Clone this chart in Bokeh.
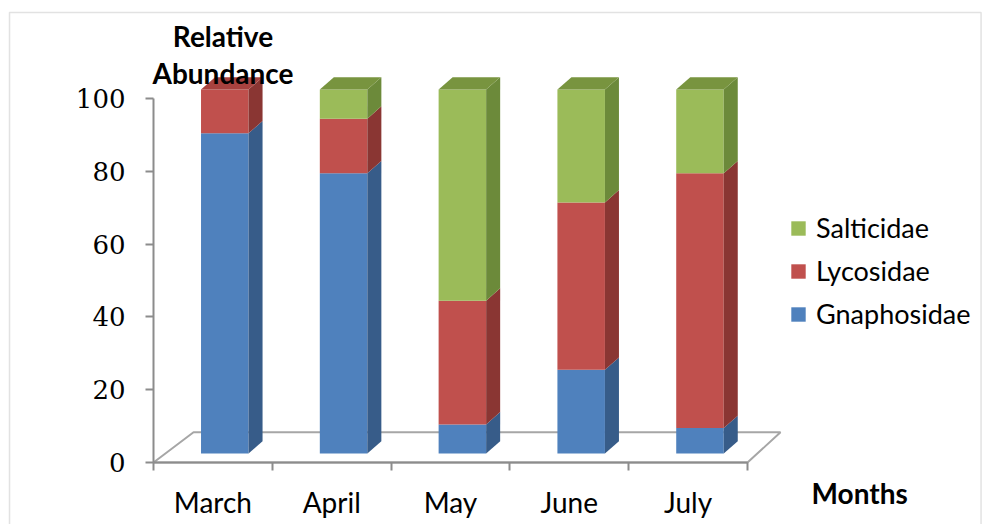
from bokeh.plotting import figure
from bokeh.models import (Range1d, FixedTicker, Legend, LegendItem, Label,
                          PolyAnnotation)
from bokeh.embed import file_html
from bokeh.resources import INLINE

# ---------------- data ----------------
months = ["March", "April", "May", "June", "July"]
gnaphosidae = [88, 77, 8, 23, 7]
lycosidae = [12, 15, 34, 46, 70]
salticidae = [0, 8, 58, 31, 23]
series_names = ["Gnaphosidae", "Lycosidae", "Salticidae"]
series_values = [gnaphosidae, lycosidae, salticidae]
y_ticks = [0, 20, 40, 60, 80, 100]

# ---------------- styles ----------------
front_colors = ["#4F81BD", "#C0504D", "#9BBB59"]
side_colors = ["#375C89", "#8A3633", "#6C8A3A"]
top_colors = ["#41699B", "#A8423F", "#78943F"]
axis_gray = "#8C8C8C"

# 3-D geometry (axis units)
BAR_L, BAR_R = 0.40, 0.80      # front face inside each category band
LIFT = 2.45                    # bars stand a bit behind the front edge
DX, DY = 0.118, 3.4            # bar depth offset
FL_DXL, FL_DXR, FL_DY = 0.337, 0.278, 8.3   # floor depth offset

W, H = 982, 524
PX_X, PX_Y = 118.8, 3.64       # pixels per unit
ORIGIN_X, ORIGIN_Y = 153, 462  # canvas position of the (0, 0) corner

p = figure(width=W, height=H, output_backend="svg", toolbar_location=None,
           x_range=Range1d(-ORIGIN_X / PX_X, (W - ORIGIN_X) / PX_X),
           y_range=Range1d(-(H - ORIGIN_Y) / PX_Y, ORIGIN_Y / PX_Y),
           min_border=0)
p.grid.visible = False
p.outline_line_color = None
p.background_fill_color = "white"
p.border_fill_color = "white"

# floor
n = len(months)
p.patch(x=[0, n, n + FL_DXR, FL_DXL], y=[0, 0, FL_DY, FL_DY],
        fill_color="white", line_color="#A6A6A6", line_width=2)

# bars
front_renderers = []
base = [0.0] * n
for s, vals in enumerate(series_values):
    fl, fr, fb, ft = [], [], [], []
    sxs, sys_ = [], []
    txs, tys = [], []
    for i, v in enumerate(vals):
        if v <= 0:
            continue
        y0 = base[i] + LIFT
        y1 = y0 + v
        fl.append(i + BAR_L); fr.append(i + BAR_R); fb.append(y0); ft.append(y1)
        sxs.append([i + BAR_R, i + BAR_R + DX, i + BAR_R + DX, i + BAR_R])
        sys_.append([y0, y0 + DY, y1 + DY, y1])
        topmost = all(series_values[k][i] <= 0 for k in range(s + 1, len(series_values)))
        if topmost:
            txs.append([i + BAR_L, i + BAR_R, i + BAR_R + DX, i + BAR_L + DX])
            tys.append([y1, y1, y1 + DY, y1 + DY])
    for i, v in enumerate(vals):
        base[i] += v
    r = p.quad(left=fl, right=fr, bottom=fb, top=ft,
               fill_color=front_colors[s], line_color=None)
    front_renderers.append(r)
    p.patches(xs=sxs, ys=sys_, fill_color=side_colors[s], line_color=None)
    if txs:
        p.patches(xs=txs, ys=tys, fill_color=top_colors[s], line_color=None)

# y axis
ya = p.yaxis[0]
ya.fixed_location = 0
ya.ticker = FixedTicker(ticks=y_ticks, minor_ticks=[])
ya.bounds = (0, 100)
ya.axis_line_color = axis_gray
ya.axis_line_width = 2
ya.major_tick_line_color = axis_gray
ya.major_tick_line_width = 2
ya.major_tick_out = 8
ya.major_tick_in = 0
ya.minor_tick_line_color = None
ya.major_label_standoff = 20
ya.major_label_text_font = "DejaVu Serif"
ya.major_label_text_font_size = "26px"
ya.major_label_text_color = "black"

# x axis
xa = p.xaxis[0]
xa.fixed_location = 0
centers = [i + 0.5 for i in range(n)]
xa.ticker = FixedTicker(ticks=centers, minor_ticks=list(range(n + 1)))
xa.major_label_overrides = {c: m for c, m in zip(centers, months)}
xa.bounds = (0, n)
xa.axis_line_color = axis_gray
xa.axis_line_width = 2
xa.major_tick_line_color = None
xa.major_tick_out = 0
xa.major_tick_in = 0
xa.minor_tick_line_color = axis_gray
xa.minor_tick_line_width = 2
xa.minor_tick_out = 8
xa.minor_tick_in = 0
xa.major_label_standoff = 14
xa.major_label_text_font = "Lato"
xa.major_label_text_font_size = "28px"
xa.major_label_text_color = "black"

# titles
for txt, yy in [("Relative", 117.3), ("Abundance", 107.1)]:
    p.add_layout(Label(x=0.585, y=yy, text=txt, text_font="Lato",
                       text_font_style="bold", text_font_size="28px",
                       text_align="center", text_baseline="alphabetic",
                       text_color="black"))
p.add_layout(Label(x=5.539, y=-8.3, text="Months", text_font="Lato",
                   text_font_style="bold", text_font_size="28px",
                   text_align="left", text_baseline="alphabetic",
                   text_color="black"))

# outer border
p.add_layout(PolyAnnotation(xs=[-1.212, 6.966, 6.966, -1.212],
                            ys=[123.6, 123.6, -25, -25],
                            fill_alpha=0, line_color="#A0A0A0", line_width=1.5))

# legend
items = [LegendItem(label=series_names[s], renderers=[front_renderers[s]])
         for s in (2, 1, 0)]
legend = Legend(items=items, location=(789, 194), orientation="vertical",
                glyph_width=18, glyph_height=18, label_standoff=9,
                spacing=10, padding=0, margin=0, border_line_color=None,
                background_fill_alpha=0, label_text_font="Lato",
                label_text_font_size="27px", label_text_color="black",
                label_height=18)
p.add_layout(legend)

open("out.html", "w").write(file_html(p, INLINE))
